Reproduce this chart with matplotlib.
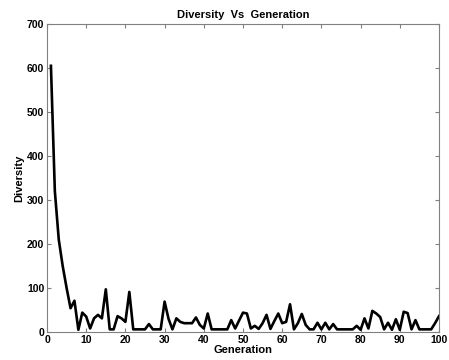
import matplotlib
matplotlib.use('Agg')
import matplotlib.pyplot as plt

generation = list(range(1, 101))
diversity = [
    605, 320, 210, 150, 100, 54, 71, 5, 44, 35,
    8, 31, 39, 31, 97, 6, 6, 36, 31, 23,
    91, 6, 6, 6, 6, 18, 6, 6, 6, 69,
    30, 6, 31, 23, 20, 20, 20, 33, 16, 8,
    42, 6, 6, 6, 6, 6, 27, 8, 26, 44,
    42, 8, 14, 7, 20, 39, 7, 25, 42, 20,
    23, 63, 6, 20, 41, 16, 6, 6, 21, 6,
    21, 6, 18, 6, 6, 6, 6, 6, 14, 5,
    31, 8, 48, 42, 34, 6, 21, 5, 29, 5,
    46, 43, 6, 27, 6, 6, 6, 6, 20, 36,
]
xticks = list(range(0, 101, 10))
yticks = list(range(0, 701, 100))

plt.rcParams['font.family'] = ['Liberation Sans', 'DejaVu Sans']

fig = plt.figure(figsize=(4.49, 3.6), dpi=100)
ax = fig.add_axes([0.1047, 0.0778, 0.873, 0.8555])
ax.plot(generation, diversity, color='black', linewidth=1.9)
ax.set_xlim(0, 100)
ax.set_ylim(0, 700)
ax.set_xticks(xticks)
ax.set_yticks(yticks)
ax.tick_params(direction='in', top=True, right=True, length=3,
               color='#808080', labelsize=7.5, pad=2)
for lbl in ax.get_xticklabels() + ax.get_yticklabels():
    lbl.set_fontweight('bold')
for s in ax.spines.values():
    s.set_color('#808080')
ax.set_title('Diversity  Vs  Generation', fontsize=8, fontweight='bold', pad=4)
ax.set_xlabel('Generation', fontsize=8, fontweight='bold', labelpad=0)
ax.set_ylabel('Diversity', fontsize=8, fontweight='bold', labelpad=2)

fig.savefig('out.png', dpi=100)
